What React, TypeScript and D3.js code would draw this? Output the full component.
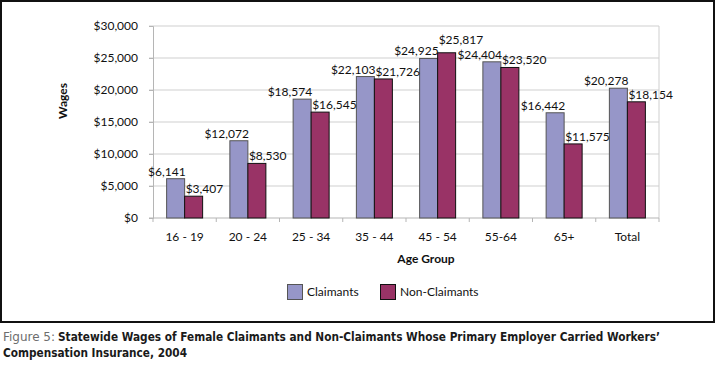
// @ts-nocheck
import * as d3 from "d3";
import { useRef, useEffect } from "react";

const categories = ["16 - 19", "20 - 24", "25 - 34", "35 - 44", "45 - 54", "55-64", "65+", "Total"];
const claimants = [6141, 12072, 18574, 22103, 24925, 24404, 16442, 20278];
const nonClaimants = [3407, 8530, 16545, 21726, 25817, 23520, 11575, 18154];
const yTicks = [0, 5000, 10000, 15000, 20000, 25000, 30000];
const seriesNames = ["Claimants", "Non-Claimants"];

const FONT = "Lato, 'Open Sans', sans-serif";
const CAPTION_FONT = "'Liberation Sans Narrow', 'DejaVu Sans Condensed', 'Open Sans', sans-serif";

const App = () => {
  const ref = useRef();

  useEffect(() => {
    const width = 718;
    const height = 368;
    const svg = d3.select(ref.current).attr("width", width).attr("height", height);
    svg.selectAll("*").remove();

    const colors = ["#9696c8", "#993366"];
    const strokes = ["#555", "#111"];

    // outer frame
    svg
      .append("rect")
      .attr("x", 1)
      .attr("y", 1)
      .attr("width", 713)
      .attr("height", 321)
      .attr("fill", "white")
      .attr("stroke", "#111")
      .attr("stroke-width", 2);

    const left = 153;
    const right = 659;
    const top = 26;
    const bottom = 218;

    const x = d3.scaleBand().domain(categories).range([left, right]).padding(0);
    const y = d3.scaleLinear().domain([0, 30000]).range([bottom, top]);
    const barW = 18;

    // gridlines
    svg
      .append("g")
      .selectAll("line")
      .data(yTicks.filter((d) => d > 0))
      .enter()
      .append("line")
      .attr("x1", left - 4)
      .attr("x2", right)
      .attr("y1", (d) => y(d))
      .attr("y2", (d) => y(d))
      .attr("stroke", "#cfcfcf");

    svg
      .append("line")
      .attr("x1", right)
      .attr("x2", right)
      .attr("y1", top)
      .attr("y2", bottom)
      .attr("stroke", "#cfcfcf");

    // y axis
    const yAxis = svg.append("g").attr("transform", `translate(${left},0)`).call(
      d3
        .axisLeft(y)
        .tickValues(yTicks)
        .tickSize(4)
        .tickPadding(11)
        .tickFormat((d) => "$" + d3.format(",")(d))
    );
    yAxis.select(".domain").attr("stroke", "#b5b5b5");
    yAxis.selectAll(".tick line").attr("stroke", "#b5b5b5");
    yAxis.selectAll("text").attr("font-family", FONT).attr("font-size", 12).attr("fill", "#111");

    // x axis
    const xg = svg.append("g");
    xg.append("line")
      .attr("x1", left - 4)
      .attr("x2", right)
      .attr("y1", bottom)
      .attr("y2", bottom)
      .attr("stroke", "#b5b5b5");
    xg.selectAll(".xt")
      .data(categories)
      .enter()
      .append("line")
      .attr("x1", (d) => x(d) + x.bandwidth())
      .attr("x2", (d) => x(d) + x.bandwidth())
      .attr("y1", bottom)
      .attr("y2", bottom + 4)
      .attr("stroke", "#b5b5b5");
    xg.append("line")
      .attr("x1", left)
      .attr("x2", left)
      .attr("y1", bottom)
      .attr("y2", bottom + 4)
      .attr("stroke", "#b5b5b5");
    xg.selectAll("text")
      .data(categories)
      .enter()
      .append("text")
      .attr("x", (d) => x(d) + x.bandwidth() / 2)
      .attr("y", 241)
      .attr("text-anchor", "middle")
      .attr("font-family", FONT)
      .attr("font-size", 12)
      .attr("fill", "#111")
      .text((d) => d);

    // bars + labels (claimant labels end at bar's right edge, non-claimant labels start at bar's left edge)
    const series = [claimants, nonClaimants];
    const labelNodes = [];
    series.forEach((vals, si) => {
      const g = svg.append("g");
      const bx = (i) => x.bandwidth() / 2 + x(categories[i]) - barW + si * barW;
      g.selectAll("rect")
        .data(vals)
        .enter()
        .append("rect")
        .attr("x", (d, i) => bx(i))
        .attr("y", (d) => y(d))
        .attr("width", barW)
        .attr("height", (d) => bottom - y(d))
        .attr("fill", colors[si])
        .attr("stroke", strokes[si])
        .attr("stroke-width", 1);

      g.selectAll("text")
        .data(vals)
        .enter()
        .append("text")
        .attr("x", (d, i) => (si === 0 ? bx(i) + barW + 1 : bx(i) + 1))
        .attr("y", (d) => y(d) - 3)
        .attr("text-anchor", si === 0 ? "end" : "start")
        .attr("font-family", FONT)
        .attr("font-size", 12)
        .attr("fill", "#111")
        .text((d) => "$" + d3.format(",")(d))
        .each(function () {
          labelNodes.push({ node: this, si });
        });
    });

    // push a non-claimant label upward if it collides with a neighbouring label
    const hits = (a, b) =>
      a.x < b.x + b.width - 2 && b.x < a.x + a.width - 2 && a.y < b.y + b.height && b.y < a.y + a.height;
    labelNodes
      .filter((l) => l.si === 1)
      .forEach((l) => {
        const sel = d3.select(l.node);
        let guard = 0;
        while (guard < 30 && labelNodes.some((o) => o !== l && hits(l.node.getBBox(), o.node.getBBox()))) {
          sel.attr("y", +sel.attr("y") - 1);
          guard++;
        }
      });

    // axis titles
    svg
      .append("text")
      .attr("transform", "translate(67,101) rotate(-90)")
      .attr("text-anchor", "middle")
      .attr("font-family", FONT)
      .attr("font-weight", "bold")
      .attr("font-size", 12)
      .attr("fill", "#111")
      .text("Wages");

    svg
      .append("text")
      .attr("x", 426)
      .attr("y", 263)
      .attr("text-anchor", "middle")
      .attr("font-family", FONT)
      .attr("font-weight", "bold")
      .attr("font-size", 12)
      .attr("fill", "#111")
      .text("Age Group");

    // legend
    const legendX = [287, 380];
    seriesNames.forEach((name, i) => {
      svg
        .append("rect")
        .attr("x", legendX[i] + 0.5)
        .attr("y", 284.5)
        .attr("width", 15)
        .attr("height", 15)
        .attr("fill", colors[i])
        .attr("stroke", strokes[i]);
      svg
        .append("text")
        .attr("x", legendX[i] + 20)
        .attr("y", 296)
        .attr("font-family", FONT)
        .attr("font-size", 12)
        .attr("fill", "#111")
        .text(name);
    });

    // caption
    svg
      .append("text")
      .attr("x", 3)
      .attr("y", 341)
      .attr("font-family", CAPTION_FONT)
      .attr("font-size", 11.5)
      .attr("fill", "#6d6d6d")
      .attr("textLength", 52)
      .attr("lengthAdjust", "spacingAndGlyphs")
      .text("Figure 5:");
    svg
      .append("text")
      .attr("x", 58)
      .attr("y", 341)
      .attr("font-family", CAPTION_FONT)
      .attr("font-size", 11.5)
      .attr("font-weight", "bold")
      .attr("fill", "#1a1a1a")
      .attr("textLength", 602)
      .attr("lengthAdjust", "spacingAndGlyphs")
      .text("Statewide Wages of Female Claimants and Non-Claimants Whose Primary Employer Carried Workers\u2019");

    svg
      .append("text")
      .attr("x", 3)
      .attr("y", 357)
      .attr("font-family", CAPTION_FONT)
      .attr("font-size", 11.5)
      .attr("font-weight", "bold")
      .attr("fill", "#1a1a1a")
      .attr("textLength", 184)
      .attr("lengthAdjust", "spacingAndGlyphs")
      .text("Compensation Insurance, 2004");
  }, []);

  return (
    <div>
      <style>{`body{margin:0}`}</style>
      <svg ref={ref} style={{ display: "block" }}></svg>
    </div>
  );
};

export default App;
